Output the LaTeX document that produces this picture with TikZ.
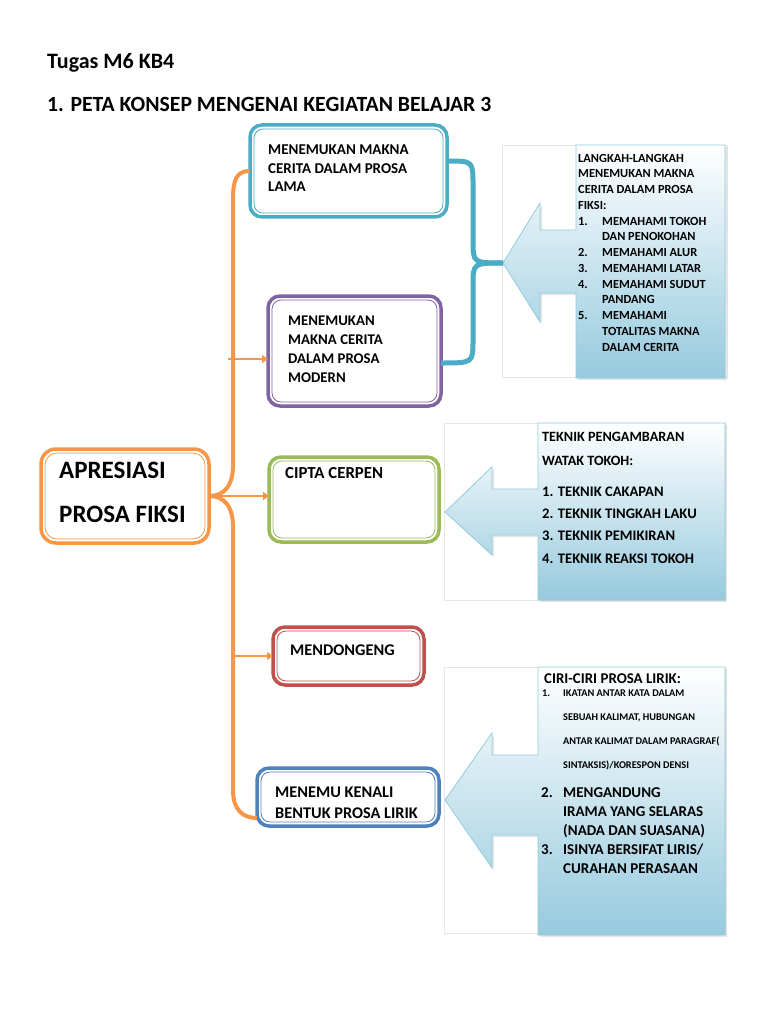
\documentclass[tikz,border=0pt]{standalone}
\usepackage{fontspec}
\setmainfont{Carlito}
\usetikzlibrary{shadows,arrows.meta}
\definecolor{orangeL}{HTML}{F79646}
\definecolor{aquaL}{HTML}{4BACC6}
\definecolor{purpleL}{HTML}{8064A2}
\definecolor{greenL}{HTML}{9BBB59}
\definecolor{redL}{HTML}{C0504D}
\definecolor{blueL}{HTML}{4F81BD}
\definecolor{calloutEdge}{HTML}{93CDDD}
\definecolor{calloutBot}{RGB}{150,202,222}
\definecolor{panelEdge}{RGB}{230,230,230}
\begin{document}
\begin{tikzpicture}[x=1pt,y=-1pt,
  boxA/.style={draw=#1, line width=3.5pt, rounded corners=12pt, fill=white, anchor=north west, inner sep=0pt, outer sep=0pt},
  innerline/.style={draw=#1, line width=0.8pt, rounded corners=9pt},
  lbl/.style={anchor=base west, align=left, inner sep=0pt, font=#1},
  orangeline/.style={draw=orangeL, line width=4pt},
  orangearrow/.style={draw=orangeL, line width=2.5pt, -{Triangle[length=6pt,width=8pt]}},
  calloutshape/.style={draw=calloutEdge, line width=0.8pt, top color=white, bottom color=calloutBot, drop shadow={opacity=0.2, shadow xshift=2pt, shadow yshift=-2pt}},
  panel/.style={draw=panelEdge, line width=0.6pt, fill=white},
  bracer/.style={draw=aquaL, line width=5pt},
]
\fill[white] (0,0) rectangle (768,1024);
\useasboundingbox (0,0) rectangle (768,1024);

% titles (anchor = baseline of last line)
\node[lbl=\fontsize{22}{26}\selectfont\bfseries] (title1) at (47,69) {Tugas M6 KB4};
\node[lbl=\fontsize{21.7}{26}\selectfont\bfseries] (title2) at (47,112) {1. PETA KONSEP MENGENAI KEGIATAN BELAJAR 3};

% callout panels and shapes
\draw[panel] (502,145) rectangle (727,377);
\draw[calloutshape] (576,145) -- (725,145) -- (725,378) -- (576,378) -- (576,293) -- (540,293) -- (540,322) -- (503,263) -- (540,203) -- (540,230) -- (576,230) -- cycle;
\coordinate (tipA) at (503,263);

\draw[panel] (444,423) rectangle (725,600);
\draw[calloutshape] (538,423) -- (725,423) -- (725,600) -- (538,600) -- (538,535) -- (492,535) -- (492,555) -- (445,512) -- (492,467) -- (492,489) -- (538,489) -- cycle;

\draw[panel] (444,667) rectangle (725,933);
\draw[calloutshape] (538,667) -- (725,667) -- (725,935) -- (538,935) -- (538,835) -- (492,835) -- (492,868) -- (445,800) -- (492,733) -- (492,755) -- (538,755) -- cycle;

% boxes
\node[boxA=aquaL, minimum width=197pt, minimum height=92pt] (b1) at (250,125) {};
\draw[innerline=aquaL] ([xshift=4pt,yshift=-4pt]b1.north west) rectangle ([xshift=-4pt,yshift=4pt]b1.south east);
\node[boxA=purpleL, minimum width=173pt, minimum height=110pt] (b2) at (268,296) {};
\draw[innerline=purpleL] ([xshift=4pt,yshift=-4pt]b2.north west) rectangle ([xshift=-4pt,yshift=4pt]b2.south east);
\node[boxA=orangeL, minimum width=168pt, minimum height=94pt, rounded corners=15pt] (main) at (41,449) {};
\draw[innerline=orangeL, rounded corners=12pt] ([xshift=4pt,yshift=-4pt]main.north west) rectangle ([xshift=-4pt,yshift=4pt]main.south east);
\node[boxA=greenL, minimum width=170pt, minimum height=85pt] (b3) at (269,457) {};
\draw[innerline=greenL] ([xshift=4pt,yshift=-4pt]b3.north west) rectangle ([xshift=-4pt,yshift=4pt]b3.south east);
\node[boxA=redL, minimum width=151pt, minimum height=58pt] (b4) at (273,627) {};
\draw[innerline=redL] ([xshift=4pt,yshift=-4pt]b4.north west) rectangle ([xshift=-4pt,yshift=4pt]b4.south east);
\node[boxA=blueL, minimum width=182pt, minimum height=58pt] (b5) at (257,768) {};
\draw[innerline=blueL] ([xshift=4pt,yshift=-4pt]b5.north west) rectangle ([xshift=-4pt,yshift=4pt]b5.south east);

% box texts
\node[lbl=\fontsize{15}{18.5}\selectfont\bfseries] (t1) at (268,192) {MENEMUKAN MAKNA\\CERITA DALAM PROSA\\LAMA};
\node[lbl=\fontsize{14.8}{19}\selectfont\bfseries] (t2) at (288,382) {MENEMUKAN\\MAKNA CERITA\\DALAM PROSA\\MODERN};
\node[lbl=\fontsize{25}{44}\selectfont\bfseries] (tm) at (59,522) {APRESIASI\\PROSA FIKSI};
\node[lbl=\fontsize{16.8}{18}\selectfont\bfseries] (t3) at (285,478) {CIPTA CERPEN};
\node[lbl=\fontsize{16.3}{18}\selectfont\bfseries] (t4) at (290,655) {MENDONGENG};
\node[lbl=\fontsize{16.3}{21}\selectfont\bfseries] (t5) at (275,818) {MENEMU KENALI\\BENTUK PROSA LIRIK};

% orange connectors
\draw[orangeline] (b1.west) .. controls (236,171) and (233,180) .. (233,200) -- (233,465) .. controls (233,485) and (225,496) .. (main.east);
\draw[orangeline] (main.east) .. controls (225,496) and (233,507) .. (233,527) -- (233,790) .. controls (233,810) and (243,818) .. ([yshift=8pt]b5.south west);
\coordinate (a2s) at (228,359);
\draw[orangearrow] (a2s) -- (a2s -| b2.west);
\draw[orangearrow] (main.east) -- (main.east -| b3.west);
\coordinate (a4s) at (233,656);
\draw[orangearrow] (a4s) -- (a4s -| b4.west);

% teal brace
\draw[bracer] ([yshift=10pt]b1.east) .. controls (473,161) .. (473,185) -- (473,240) .. controls (473,263) .. (tipA);
\draw[bracer] (tipA) .. controls (473,263) .. (473,286) -- (473,340) .. controls (473,363) .. ([yshift=-12pt]b2.east);

% callout texts
\node[lbl=\fontsize{12.4}{15.75}\selectfont\bfseries] (c1) at (578,351) {LANGKAH-LANGKAH\\MENEMUKAN MAKNA\\CERITA DALAM PROSA\\FIKSI:\\
\makebox[24pt][l]{1.}MEMAHAMI TOKOH\\\hspace*{24pt}DAN PENOKOHAN\\
\makebox[24pt][l]{2.}MEMAHAMI ALUR\\
\makebox[24pt][l]{3.}MEMAHAMI LATAR\\
\makebox[24pt][l]{4.}MEMAHAMI SUDUT\\\hspace*{24pt}PANDANG\\
\makebox[24pt][l]{5.}MEMAHAMI\\\hspace*{24pt}TOTALITAS MAKNA\\\hspace*{24pt}DALAM CERITA};

\node[lbl=\fontsize{14.2}{24}\selectfont\bfseries] (c2a) at (542,465) {TEKNIK PENGAMBARAN\\WATAK TOKOH:};
\node[lbl=\fontsize{14.6}{22.3}\selectfont\bfseries] (c2b) at (542,563) {1. TEKNIK CAKAPAN\\2. TEKNIK TINGKAH LAKU\\3. TEKNIK PEMIKIRAN\\4. TEKNIK REAKSI TOKOH};

\node[lbl=\fontsize{14.9}{16}\selectfont\bfseries] (c3a) at (544,683) {CIRI-CIRI PROSA LIRIK:};
\node[lbl=\fontsize{10.3}{23.7}\selectfont\bfseries] (c3b) at (542,768) {\makebox[21pt][l]{1.}IKATAN ANTAR KATA DALAM\\\hspace*{21pt}SEBUAH KALIMAT, HUBUNGAN\\\hspace*{21pt}ANTAR KALIMAT DALAM PARAGRAF(\\\hspace*{21pt}SINTAKSIS)/KORESPON DENSI};
\node[lbl=\fontsize{15}{19}\selectfont\bfseries] (c3c) at (541,873) {\makebox[22pt][l]{2.}MENGANDUNG\\\hspace*{22pt}IRAMA YANG SELARAS\\\hspace*{22pt}(NADA DAN SUASANA)\\\makebox[22pt][l]{3.}ISINYA BERSIFAT LIRIS/\\\hspace*{22pt}CURAHAN PERASAAN};
\end{tikzpicture}
\end{document}
